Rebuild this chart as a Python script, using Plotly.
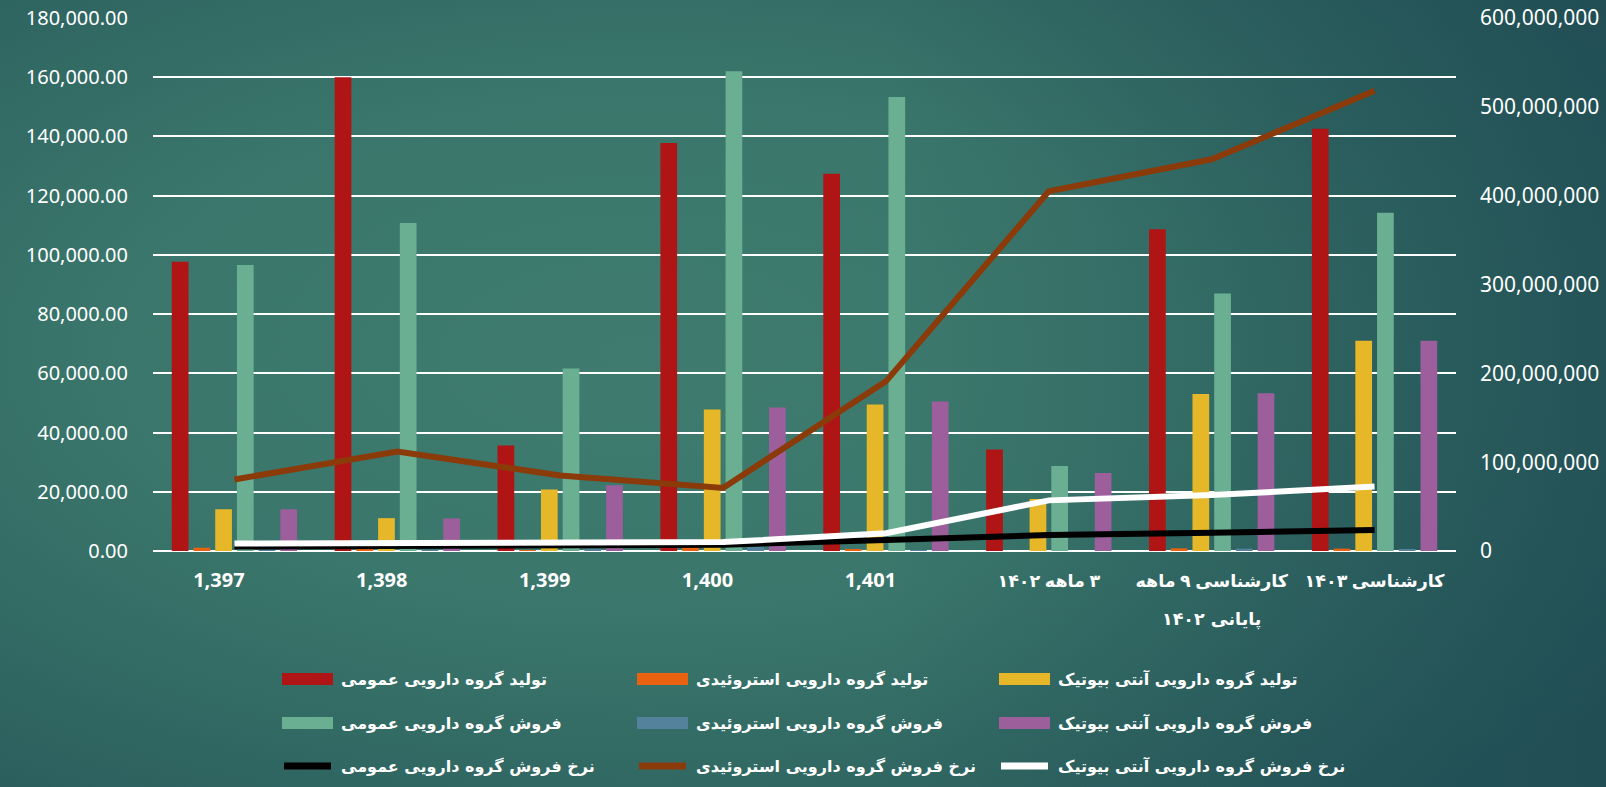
import base64
import plotly.graph_objects as go

# ---------------- data ----------------
categories = ["1,397", "1,398", "1,399", "1,400", "1,401",
              "۳ ماهه ۱۴۰۲", "کارشناسی ۹ ماهه پایانی ۱۴۰۲", "کارشناسی ۱۴۰۳"]
tick_lines = [["1,397"], ["1,398"], ["1,399"], ["1,400"], ["1,401"],
              ["۳ ماهه ۱۴۰۲"], ["کارشناسی ۹ ماهه", "پایانی ۱۴۰۲"], ["کارشناسی ۱۴۰۳"]]

prod_general = [97700, 160000, 35600, 137800, 127400, 34300, 108700, 142600]
prod_steroid = [1100, 500, 300, 1800, 500, 0, 900, 800]
prod_antibiotic = [14100, 11100, 20800, 47800, 49500, 17600, 53000, 71000]
sales_general = [96600, 110800, 61600, 162000, 153300, 28700, 87000, 114200]
sales_steroid = [200, 300, 600, 1800, 300, 0, 800, 600]
sales_antibiotic = [14100, 11000, 22200, 48500, 50500, 26300, 53300, 71000]

rate_general = [5.0e6, 5.5e6, 6.0e6, 7.0e6, 12.5e6, 18.0e6, 20.5e6, 23.6e6]
rate_steroid = [80.5e6, 112e6, 85e6, 71e6, 191e6, 405e6, 441e6, 518e6]
rate_antibiotic = [8.5e6, 9.0e6, 9.5e6, 10.0e6, 20.0e6, 57.0e6, 63.0e6, 72.5e6]

bar_names = ["تولید گروه دارویی عمومی", "تولید گروه دارویی استروئیدی", "تولید گروه دارویی آنتی بیوتیک",
             "فروش گروه دارویی عمومی", "فروش گروه دارویی استروئیدی", "فروش گروه دارویی آنتی بیوتیک"]
line_names = ["نرخ فروش گروه دارویی عمومی", "نرخ فروش گروه دارویی استروئیدی", "نرخ فروش گروه دارویی آنتی بیوتیک"]

bar_values = [prod_general, prod_steroid, prod_antibiotic, sales_general, sales_steroid, sales_antibiotic]
line_values = [rate_general, rate_steroid, rate_antibiotic]

bar_colors = ["#B01515", "#E8620F", "#E6B729", "#6AAF92", "#54829C", "#9C5F9C"]
line_colors = ["#000000", "#8B3A0A", "#FFFFFF"]

# ---------------- layout geometry ----------------
W, H = 1606, 787
ML, MR, MT, MB = 153, 150, 18, 236
PW, PH = W - ML - MR, H - MT - MB

def px_x(x):
    return (x - ML) / PW

def px_y(y):
    return (H - MB - y) / PH

RLM = "\u200f"
NB = "\u00a0"
ticktext = []
extra_annotations = []
for cat, lines in zip(categories, tick_lines):
    first = lines[0]
    if first[0].isascii():
        ticktext.append(first + NB * 6)
    else:
        ticktext.append("<span style='font-size:17.5px'>" + RLM + first + "</span>")
    for k, extra in enumerate(lines[1:], start=1):
        extra_annotations.append(dict(text=RLM + extra, xref="x", yref="paper", x=cat,
                                      y=px_y(581 + 38 * k), xanchor="center", yanchor="middle",
                                      showarrow=False,
                                      font=dict(family="DejaVu Sans", size=17.5, color="white",
                                                weight="bold")))

fig = go.Figure()

for name, vals, col in zip(bar_names, bar_values, bar_colors):
    fig.add_trace(go.Bar(x=categories, y=vals, name=name, marker=dict(color=col, line=dict(width=0)),
                         showlegend=False))

for name, vals, col in zip(line_names, line_values, line_colors):
    fig.add_trace(go.Scatter(x=categories, y=vals, name=name, mode="lines", yaxis="y2",
                             line=dict(color=col, width=6), showlegend=False))

# ---------------- background gradient (svg image) ----------------
svg = f"""<svg xmlns='http://www.w3.org/2000/svg' width='{W}' height='{H}' viewBox='0 0 {W} {H}' preserveAspectRatio='none'>
<defs>
<radialGradient id='g' cx='0.40' cy='0.45' r='0.75' gradientUnits='objectBoundingBox'>
<stop offset='0' stop-color='#3f7c6f'/>
<stop offset='0.45' stop-color='#3a766b'/>
<stop offset='1' stop-color='#285a5b'/>
</radialGradient>
<linearGradient id='d' x1='0' y1='0' x2='1' y2='0'>
<stop offset='0.55' stop-color='#173f4c' stop-opacity='0'/>
<stop offset='1' stop-color='#173f4c' stop-opacity='0.45'/>
</linearGradient>
</defs>
<rect width='{W}' height='{H}' fill='url(#g)'/>
<rect width='{W}' height='{H}' fill='url(#d)'/>
</svg>"""
src = "data:image/svg+xml;base64," + base64.b64encode(svg.encode("utf-8")).decode("ascii")

# ---------------- custom legend ----------------
shapes = []
annotations = []
col_x = [282, 637, 999]
row_y = [679, 723, 766]
sw_w = 51
items = [(n, c, "bar") for n, c in zip(bar_names, bar_colors)] + \
        [(n, c, "line") for n, c in zip(line_names, line_colors)]
for i, (name, col, kind) in enumerate(items):
    r, c = divmod(i, 3)
    x0, y = col_x[c], row_y[r]
    if kind == "bar":
        shapes.append(dict(type="rect", xref="paper", yref="paper",
                           x0=px_x(x0), x1=px_x(x0 + sw_w), y0=px_y(y - 6), y1=px_y(y + 6),
                           fillcolor=col, line=dict(width=0)))
    else:
        shapes.append(dict(type="line", xref="paper", yref="paper",
                           x0=px_x(x0 + 2), x1=px_x(x0 + sw_w - 2), y0=px_y(y), y1=px_y(y),
                           line=dict(color=col, width=7)))
    annotations.append(dict(text=RLM + name, xref="paper", yref="paper", x=px_x(x0 + sw_w + 6),
                            y=px_y(y), xanchor="left", yanchor="middle", showarrow=False,
                            font=dict(family="DejaVu Sans", size=16, color="white", weight="bold")))

fig.update_layout(
    width=W, height=H,
    margin=dict(l=ML, r=MR, t=MT, b=MB, autoexpand=False),
    paper_bgcolor="#336b66",
    plot_bgcolor="rgba(0,0,0,0)",
    barmode="group", bargap=0.2, bargroupgap=0.23,
    showlegend=False,
    images=[dict(source=src, xref="paper", yref="paper", x=px_x(0), y=px_y(0),
                 sizex=W / PW, sizey=H / PH, xanchor="left", yanchor="top",
                 sizing="stretch", layer="below")],
    shapes=shapes,
    annotations=annotations + extra_annotations,
    xaxis=dict(type="category", tickvals=categories, ticktext=ticktext, showgrid=False,
               showline=False, zeroline=False, ticks="", ticklabelstandoff=15, automargin=False,
               tickfont=dict(family="Open Sans, DejaVu Sans", size=20, color="white", weight="bold")),
    yaxis=dict(range=[0, 180000], dtick=20000, tickformat=",.2f", showgrid=True, automargin=False,
               gridcolor="white", gridwidth=2, zeroline=True, zerolinecolor="white", zerolinewidth=2,
               showline=False, ticks="", ticklabelstandoff=24,
               tickfont=dict(family="Noto Sans", size=20, color="white")),
    yaxis2=dict(range=[0, 600000000], dtick=100000000, tickformat=",d", overlaying="y", side="right",
                showgrid=False, zeroline=False, showline=False, ticks="", ticklabelstandoff=23,
                automargin=False,
                tickfont=dict(family="Noto Sans", size=21, color="white")),
)

fig.write_html("out.html", config={"displayModeBar": False},
               post_script="document.body.style.margin='0';document.body.style.overflow='hidden';")
